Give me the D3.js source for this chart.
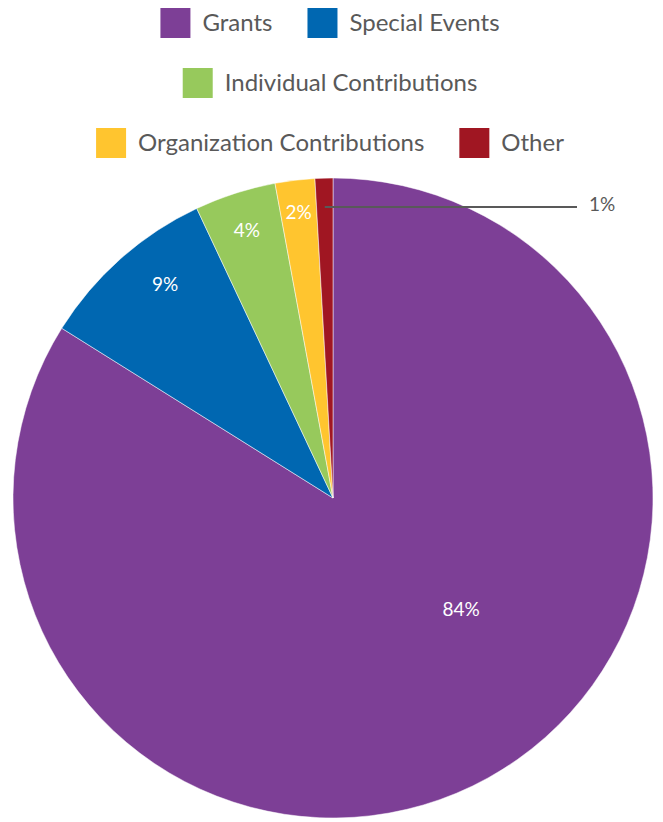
<!DOCTYPE html>
<html>
<head>
<meta charset="utf-8">
<script src="https://cdn.jsdelivr.net/npm/d3@7"></script>
<style>
	body { margin: 0; background: #fff; }
	#chart { width: 663px; height: 822px; }
	text { font-family: Lato, "Open Sans", sans-serif; }
</style>
</head>
<body>
<div id="chart"></div>
<script>
// Chart data
const categories = ["Grants", "Special Events", "Individual Contributions", "Organization Contributions", "Other"];
const shares = [83.9, 9.1, 4.1, 2.0, 0.9];
const sliceColors = ["#7D3F96", "#0067B1", "#97C95C", "#FFC52F", "#A01622"];

const width = 663,
	height = 822,
	cx = 333,
	cy = 498,
	radius = 320;

const data = categories.map((c, i) => ({ name: c, value: shares[i] }));
const total = d3.sum(shares);

const colors = d3.scaleOrdinal()
	.domain(categories)
	.range(sliceColors);

const svg = d3.select('#chart').append('svg')
	.attr('width', width)
	.attr('height', height);

// ---- legend (centered, wrapped rows)
const legend = svg.append('g').classed('legend', true);
const swatch = 30, swGap = 12, itemGap = 35, maxRow = 600, rowH = 60, firstRowY = 23;

const items = legend.selectAll('.legend-item')
	.data(categories)
	.enter().append('g')
	.classed('legend-item', true);

items.append('rect')
	.attr('width', swatch)
	.attr('height', swatch)
	.attr('y', -swatch / 2)
	.style('fill', d => colors(d));

items.append('text')
	.attr('x', swatch + swGap)
	.attr('dy', '0.35em')
	.style('font-size', '24px')
	.style('fill', '#595959')
	.text(d => d);

// greedy wrap
const rows = [];
let row = [], rowW = 0;
items.each(function(d) {
	const w = swatch + swGap + this.querySelector('text').getComputedTextLength();
	const add = row.length ? itemGap + w : w;
	if (row.length && rowW + add > maxRow) {
		rows.push({ items: row, width: rowW });
		row = []; rowW = 0;
	}
	row.push({ node: this, w: w });
	rowW += row.length > 1 ? itemGap + w : w;
});
rows.push({ items: row, width: rowW });

rows.forEach((r, ri) => {
	let x = cx - 3 - r.width / 2;
	r.items.forEach(it => {
		d3.select(it.node).attr('transform', `translate(${x}, ${firstRowY + ri * rowH})`);
		x += it.w + itemGap;
	});
});

// ---- pie
const pie = d3.pie()
	.sort(null)
	.startAngle(0)
	.endAngle(2 * Math.PI)
	.value(d => d.value);

const arcs = pie(data);

const arc = d3.arc()
	.innerRadius(0)
	.outerRadius(radius);

const chartInner = svg.append('g')
	.classed('chart-inner', true)
	.attr('transform', `translate(${cx}, ${cy})`);

chartInner.selectAll('.pie-slice')
	.data(arcs)
	.enter().append('path')
	.classed('pie-slice', true)
	.attr('d', arc)
	.style('fill', d => colors(d.data.name))
	.style('stroke', '#fff')
	.style('stroke-width', 0.5);

// label placement (radius fraction, angle shift in radians)
const labelPlace = {
	"Grants": { r: 0.53, shift: -0.35 },
	"Special Events": { r: 0.85, shift: 0.06 },
	"Individual Contributions": { r: 0.88, shift: 0 },
	"Organization Contributions": { r: 0.9, shift: 0 }
};

const pct = d => Math.round(d.data.value / total * 100) + '%';

const inside = arcs.filter(d => labelPlace[d.data.name]);
chartInner.selectAll('.pie-label')
	.data(inside)
	.enter().append('text')
	.classed('pie-label', true)
	.attr('transform', d => {
		const p = labelPlace[d.data.name];
		const a = (d.startAngle + d.endAngle) / 2 + p.shift;
		return `translate(${Math.sin(a) * radius * p.r}, ${-Math.cos(a) * radius * p.r})`;
	})
	.attr('text-anchor', 'middle')
	.attr('dy', '0.35em')
	.style('fill', 'white')
	.style('font-size', '19px')
	.text(pct);

// outside label with leader line for the small slice
const outside = arcs.filter(d => !labelPlace[d.data.name]);
outside.forEach(d => {
	const a = (d.startAngle + d.endAngle) / 2;
	const r0 = radius * 0.91;
	const x0 = Math.sin(a) * r0, y0 = -Math.cos(a) * r0;
	const x1 = 244;
	chartInner.append('line')
		.attr('x1', x0).attr('y1', y0)
		.attr('x2', x1).attr('y2', y0)
		.style('stroke', '#595959')
		.style('stroke-width', 2);
	chartInner.append('text')
		.attr('x', x1 + 12)
		.attr('y', y0)
		.attr('dy', '0.2em')
		.style('fill', '#595959')
		.style('font-size', '19px')
		.text(pct(d));
});
</script>
</body>
</html>
